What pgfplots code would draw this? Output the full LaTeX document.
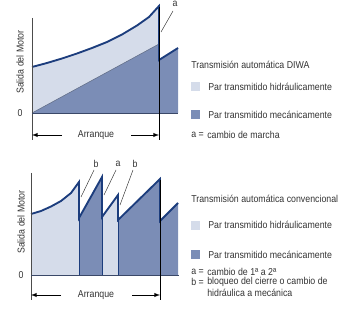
\documentclass[border=0pt]{standalone}
\usepackage{pgfplots}
\pgfplotsset{compat=1.18}
\usepackage{fontspec}
\setmainfont[FakeStretch=0.88]{Liberation Sans}
\definecolor{lightf}{HTML}{D5DCEA}
\definecolor{darkf}{HTML}{7B8DB6}
\definecolor{curve}{HTML}{1C3D7D}
\definecolor{txt}{HTML}{333333}
\definecolor{zline}{HTML}{3A4868}
\begin{document}
\begin{tikzpicture}
\useasboundingbox (0,0) rectangle (255.75pt,-231.75pt);
\pgfplotsset{diag/.style={x=0.75pt,y=0.75pt,anchor=origin,axis lines=none,
  xmin=0,xmax=150,ymin=0,ymax=110,clip=false,scale only axis}}
% ---------- top chart ----------
\begin{axis}[diag,at={(24pt,-84.75pt)}]
\addplot[fill=lightf,draw=none] coordinates {(0,46) (15,50) (30,54.5) (45,59.5) (60,65) (75,71) (90,78.5) (105,87.5) (117,96) (127,107)} \closedcycle;
\addplot[fill=darkf,draw=none] coordinates {(0,0) (127,69) (127,53) (146,65) (146,0)} \closedcycle;
\addplot[draw=zline!80,line width=0.4pt] coordinates {(0,0) (127,69)};
\addplot[draw=curve,line width=1.4pt] coordinates {(0,46) (15,50) (30,54.5) (45,59.5) (60,65) (75,71) (90,78.5) (105,87.5) (117,96) (127,107) (127,53) (146,65)};
\end{axis}
% ---------- bottom chart ----------
\begin{axis}[diag,at={(23.25pt,-206.25pt)}]
\addplot[fill=lightf,draw=none] coordinates {(0,61) (10,64) (20,68.5) (30,74) (40,82) (48,93) (48,0)} \closedcycle;
\addplot[fill=darkf,draw=none] coordinates {(48,57) (71,98) (71,0)} \closedcycle;
\addplot[fill=lightf,draw=none] coordinates {(71,58) (87,80) (87,0)} \closedcycle;
\addplot[fill=darkf,draw=none] coordinates {(87,55) (129,96) (129,54) (147,72) (147,0)} \closedcycle;
\addplot[draw=curve,line width=0.7pt] coordinates {(48,0) (48,57)};
\addplot[draw=curve,line width=0.7pt] coordinates {(71,0) (71,58)};
\addplot[draw=curve,line width=0.7pt] coordinates {(87,0) (87,55)};
\addplot[draw=curve,line width=1.4pt] coordinates {(0,61) (10,64) (20,68.5) (30,74) (40,82) (48,93) (48,57) (71,98) (71,58) (87,80) (87,55) (129,96) (129,54) (147,72)};
\end{axis}
% ---------- annotations (pixel coordinates) ----------
\begin{scope}[x=0.75pt,y=-0.75pt,font=\fontsize{7.5}{8.5}\selectfont,text=txt]
% axes
\draw[gray!60!black,line width=0.4pt] (32,18) -- (32,140);
\draw[zline,line width=0.6pt] (32,113) -- (178,113);
\draw[black,line width=0.4pt] (159,7) -- (159,140);
\draw[gray!60!black,line width=0.4pt] (31,173) -- (31,300);
\draw[zline,line width=0.6pt] (31,275) -- (179,275);
\draw[black,line width=0.4pt] (160,180) -- (160,300);
% dimension arrows
\draw[-latex,line width=0.5pt] (62,135) -- (32,135);
\draw[-latex,line width=0.5pt] (131,135) -- (159,135);
\node at (96,135) {Arranque};
\draw[-latex,line width=0.5pt] (61,295) -- (31,295);
\draw[-latex,line width=0.5pt] (132,295) -- (160,295);
\node at (96,295) {Arranque};
% y labels
\node[rotate=90] at (20,62) {Salida del Motor};
\node at (20,113) {0};
\node[rotate=90] at (21,222) {Salida del Motor};
\node at (21,275) {0};
% callouts
\node at (175,4) {a};
\draw[gray!40!black,line width=0.35pt] (173,11) -- (161,32);
\node at (96,164) {b};
\node at (118,164) {a};
\node at (135,164) {b};
\draw[gray!40!black,line width=0.35pt] (94,170) -- (81,197);
\draw[gray!40!black,line width=0.35pt] (116,170) -- (104,195);
\draw[gray!40!black,line width=0.35pt] (133,170) -- (120,205);
% legend top
\node[anchor=west,inner sep=0] at (191,65) {Transmisión automática DIWA};
\fill[lightf] (191,82) rectangle (200,91);
\node[anchor=west,inner sep=0] at (208,87) {Par transmitido hidráulicamente};
\fill[darkf] (191,110) rectangle (200,119);
\node[anchor=west,inner sep=0] at (208,115) {Par transmitido mecánicamente};
\node[anchor=west,inner sep=0] at (191,135) {a =};
\node[anchor=west,inner sep=0] at (207,135) {cambio de marcha};
% legend bottom
\node[anchor=west,inner sep=0] at (191,199) {Transmisión automática convencional};
\fill[lightf] (191,221) rectangle (200,230);
\node[anchor=west,inner sep=0] at (208,225) {Par transmitido hidráulicamente};
\fill[darkf] (191,250) rectangle (200,259);
\node[anchor=west,inner sep=0] at (208,255) {Par transmitido mecánicamente};
\node[anchor=west,inner sep=0] at (191,272) {a =};
\node[anchor=west,inner sep=0] at (207,272) {cambio de 1ª a 2ª};
\node[anchor=west,inner sep=0] at (191,282) {b =};
\node[anchor=west,inner sep=0] at (207,282) {bloqueo del cierre o cambio de};
\node[anchor=west,inner sep=0] at (207,293) {hidráulica a mecánica};
\end{scope}
\end{tikzpicture}
\end{document}
